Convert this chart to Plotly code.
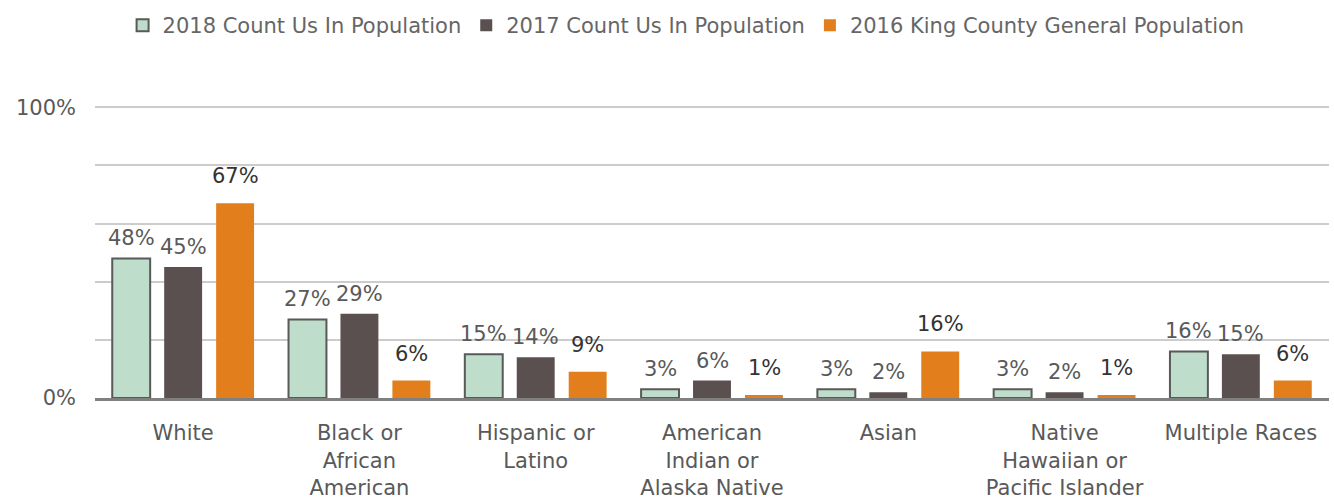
import plotly.graph_objects as go

categories = ["White", "Black or<br>African<br>American", "Hispanic or<br>Latino",
              "American<br>Indian or<br>Alaska Native", "Asian",
              "Native<br>Hawaiian or<br>Pacific Islander", "Multiple Races"]
series_names = ["2018 Count Us In Population", "2017 Count Us In Population",
                "2016 King County General Population"]
vals_2018 = [48, 27, 15, 3, 3, 3, 16]
vals_2017 = [45, 29, 14, 6, 2, 2, 15]
vals_2016 = [67, 6, 9, 1, 16, 1, 6]
ytick_vals = [0, 20, 40, 60, 80, 100]
ytick_text = ["0%", "", "", "", "", "100%"]

colors = ["#BFDDCB", "#5A504F", "#E37E1D"]
line_colors = ["#595959", "#5A504F", "#E37E1D"]
line_widths = [2, 0, 0]
label_colors = ["#595959", "#595959", "#333333"]
label_shift = [20, 20, 27]
x_offsets = [-52, 0, 52]

font = "DejaVu Sans, Liberation Sans, Arial, sans-serif"
FS = 21
fig = go.Figure()
all_vals = [vals_2018, vals_2017, vals_2016]
for i, (name, vals) in enumerate(zip(series_names, all_vals)):
    fig.add_trace(go.Bar(
        x=categories, y=vals, name=name,
        marker=dict(color=colors[i], line=dict(color=line_colors[i], width=line_widths[i])),
    ))
    for c, v in zip(categories, vals):
        fig.add_annotation(x=c, y=v, xshift=x_offsets[i], yshift=label_shift[i],
                           text=f"{v}%", showarrow=False, yanchor="middle",
                           font=dict(family=font, size=FS, color=label_colors[i]))

fig.update_layout(
    width=1334, height=500,
    margin=dict(l=95, r=5, t=106, b=102),
    plot_bgcolor="white", paper_bgcolor="white",
    barmode="group", bargap=0.116, bargroupgap=0.27,
    font=dict(family=font, size=FS, color="#595959"),
    legend=dict(orientation="h", x=0.479, xanchor="center", y=0.99, yref="container",
                yanchor="top", font=dict(size=FS, color="#666666"),
                itemwidth=30, tracegroupgap=0),
    showlegend=True,
)
fig.update_xaxes(showline=True, linecolor="#808080", linewidth=3, ticks="",
                 tickfont=dict(size=FS, color="#595959"), ticklabelstandoff=14,
                 automargin=False)
fig.update_yaxes(range=[0, 100.4], tickvals=ytick_vals, ticktext=ytick_text,
                 showgrid=True, gridcolor="#CCCCCC", gridwidth=2, zeroline=False,
                 tickfont=dict(size=FS, color="#595959"), ticklabelstandoff=18,
                 automargin=False)

fig.write_html("out.html", config={"displayModeBar": False},
               post_script="document.body.style.margin='0';")
